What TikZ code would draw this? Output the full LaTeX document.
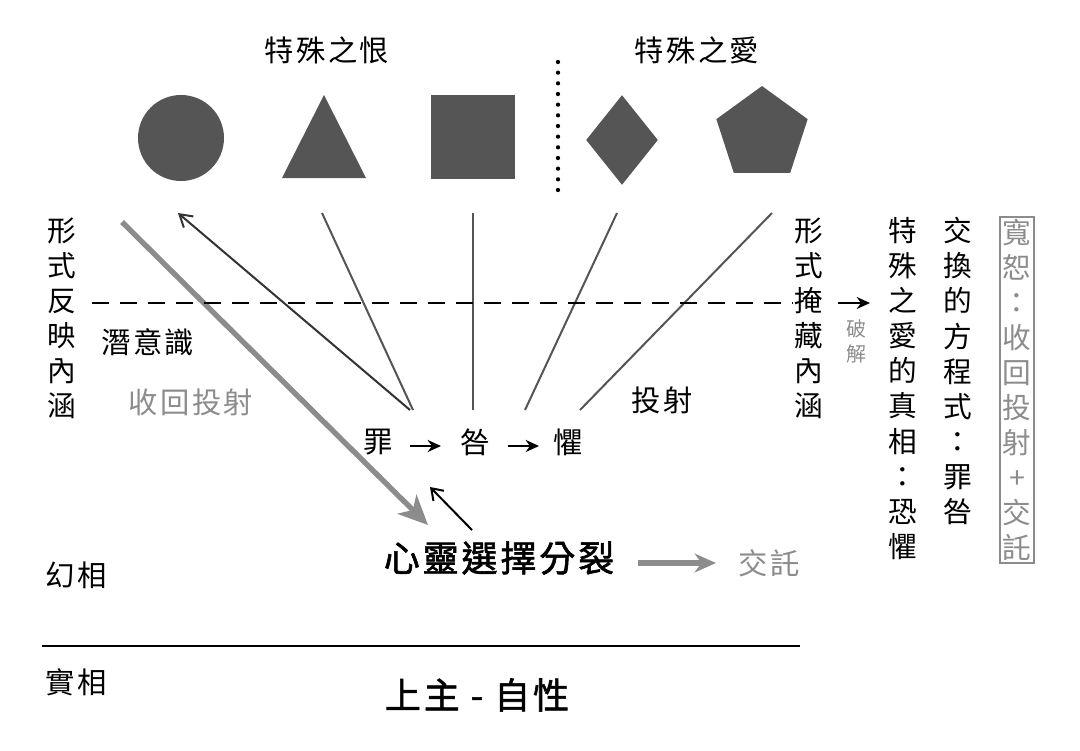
\documentclass[tikz,border=0pt]{standalone}
\usepackage{fontspec}
\setmainfont{Noto Sans CJK TC}[LetterSpace=8]
\newfontfamily\heavy{Noto Sans CJK TC}[FakeBold=1.6,LetterSpace=8]
\usetikzlibrary{arrows.meta,shapes.geometric}
\definecolor{shape}{RGB}{85,85,85}
\definecolor{soft}{RGB}{140,140,140}
\tikzset{every picture/.style={line width=0.75pt}}
\tikzset{
  fig/.style={fill=shape,draw=none,inner sep=0pt},
  ray/.style={draw=shape,line width=1.5pt},
  vtxt/.style={align=center,font=\fontsize{21.5}{26.3}\selectfont,inner sep=0.75pt,anchor=north},
  htxt/.style={font=\fontsize{22}{26}\selectfont,inner sep=0.75pt},
  tip/.style={-{Stealth[length=10pt,width=9pt]}}
}
\begin{document}
\begin{tikzpicture}[x=0.75pt,y=0.75pt,yscale=-1,xscale=1]
\useasboundingbox (0,0) rectangle (1080,750);

%Shapes
\node (circ) [fig,circle,minimum size=86*0.75pt] at (181,138) {};
\fill [fill=shape] (282,178) -- (366,178) -- (324,95) -- cycle ;
\node (sq) [fig,minimum size=84*0.75pt] at (473,137) {};
\node (dia) [fig,diamond,minimum width=72*0.75pt,minimum height=90*0.75pt] at (622,140) {};
\node (pent) [fig,regular polygon,regular polygon sides=5,minimum size=96*0.75pt] at (762,134) {};
%Dotted divider
\draw [line width=3.2pt,dash pattern=on 0pt off 8pt,line cap=round] (558,62) -- (558,198) ;

% Titles
\node (hate) [htxt] at (327,50) {特殊之恨};
\node (love) [htxt] at (697,50) {特殊之愛};

% Guilt chain
\node (sin) [htxt] at (378,442) {罪};
\node (blame) [htxt] at (475,442) {咎};
\node (fear) [htxt] at (568,442) {懼};
\draw [tip,line width=1.8pt] (410,446) -- (441,446) ;
\draw [tip,line width=1.8pt] (508,446) -- (539,446) ;

%Rays
\coordinate (r1) at (322,213); \coordinate (r2) at (473,213);
\coordinate (r3) at (617,213); \coordinate (r4) at (772,213);
\draw [ray] (r1) -- (413,410) ;
\draw [ray] (r2) -- (473,410) ;
\draw [ray] (r3) -- (525,410) ;
\draw [ray] (r4) -- (580,410) ;
\coordinate (back) at (178,213);
\draw [ray,-{Straight Barb[length=9pt,width=11pt]},draw=black!80] (410,410) -- (back) ;

%Mind
\node (mind) [font=\fontsize{27}{30}\heavy,inner sep=0.75pt] at (499,558) {心靈選擇分裂};
\node (give) [htxt,text=soft] at (769,563) {交託};
\coordinate (gs) at (122,222);
\draw [soft,line width=4pt,-{Stealth[length=22pt,width=20pt,inset=6pt]}] (gs) -- (428,525) ;
\draw [line width=1.5pt,-{Straight Barb[length=8pt,width=11pt]}] (472,530) -- (430,487) ;
\draw [soft,line width=4pt,-{Stealth[length=16pt,width=14pt]}] (638,563) -- (716,563) ;

%Levels
\node (sub) [htxt] at (148,342) {潛意識};
\node (withdraw) [htxt,text=soft] at (191,402) {收回投射};
\node (proj) [htxt] at (662,400) {投射};
\node (illu) [htxt] at (76,575) {幻相};
\node (real) [htxt] at (76,682) {實相};
\node (god) [font=\fontsize{27}{30}\heavy,inner sep=0.75pt] at (477,695) {上主 - 自性};
\coordinate (bl) at (42,646); \coordinate (br) at (800,646);
\draw [line width=2pt] (bl) -- (br) ;

%Vertical texts
\node (lv) [vtxt] at (62,216) {形\\式\\反\\映\\內\\涵};
\node (rv) [vtxt] at (809,216) {形\\式\\掩\\藏\\內\\涵};
\node (crack) [vtxt,text=soft,font=\fontsize{15}{19}\selectfont] at (856,318) {破\\解};
\node (truth) [vtxt] at (903,216) {特\\殊\\之\\愛\\的\\真\\相\\：\\恐\\懼};
\node (eq) [vtxt] at (958,216) {交\\換\\的\\方\\程\\式\\：\\罪\\咎};
\node (forgive) [vtxt,text=soft,draw=soft,inner sep=1.5pt,line width=1.3pt,minimum width=34*0.75pt] at (1017,216) {寬\\恕\\：\\收\\回\\投\\射\\+\\交\\託};

%Dashed boundary
\coordinate (dl) at (92,303);
\draw [line width=2pt,dash pattern=on 13pt off 8pt] (dl) -- (rv.west |- dl) ;
\draw [tip,line width=1.5pt] (838,303) -- (870,303) ;
\end{tikzpicture}
\end{document}
